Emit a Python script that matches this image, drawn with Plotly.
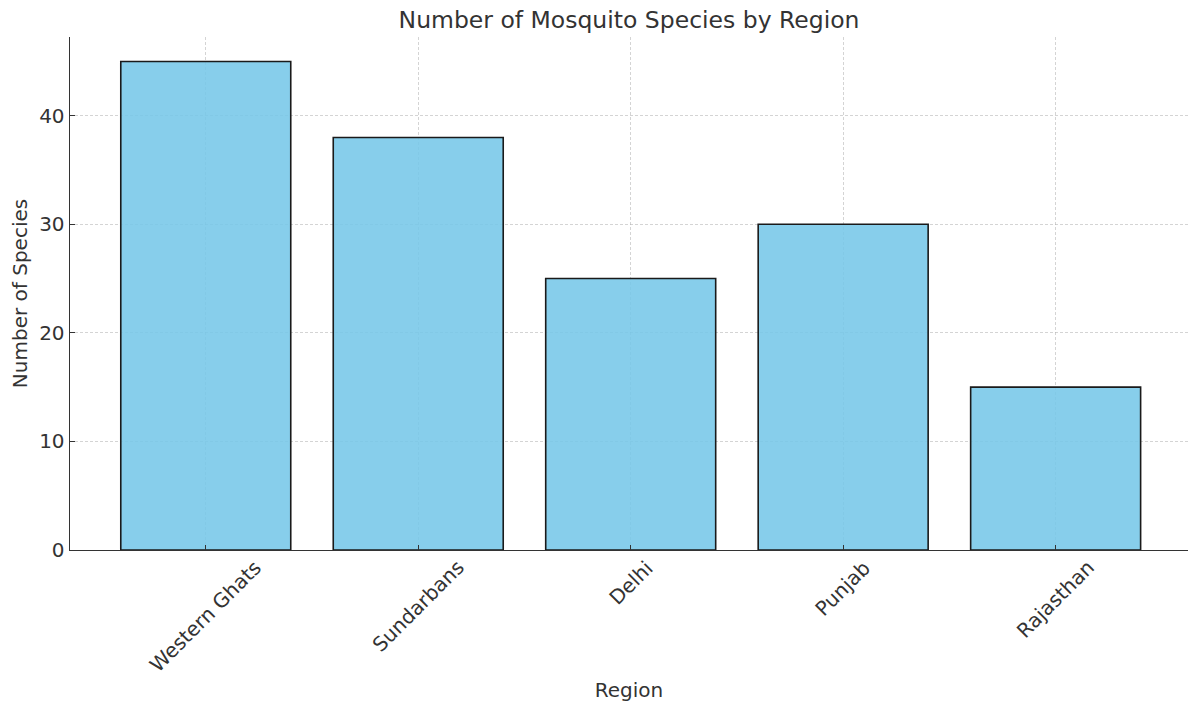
import plotly.graph_objects as go

regions = ["Western Ghats", "Sundarbans", "Delhi", "Punjab", "Rajasthan"]
species = [45, 38, 25, 30, 15]
y_ticks = [0, 10, 20, 30, 40]

TXT = "#333333"
FONT = "DejaVu Sans"

fig = go.Figure()
fig.add_trace(go.Bar(
    x=list(range(len(regions))),
    y=species,
    width=0.8,
    marker=dict(color="rgba(118,199,232,0.88)",
                line=dict(color="#1a1a1a", width=1.6)),
    hoverinfo="skip",
))

for i, r in enumerate(regions):
    fig.add_annotation(
        x=i, y=0, xref="x", yref="y",
        text=r, showarrow=False, textangle=-45,
        xanchor="center", yanchor="top", yshift=-3,
        font=dict(family=FONT, size=20, color=TXT),
    )

grid = dict(showgrid=True, gridcolor="rgba(170,170,170,0.5)", griddash="3px,2px", gridwidth=1)

fig.update_layout(
    width=1188, height=704,
    margin=dict(l=70, r=0, t=37, b=154),
    paper_bgcolor="white", plot_bgcolor="white",
    showlegend=False,
    font=dict(family=FONT, size=20, color=TXT),
    title=dict(text="Number of Mosquito Species by Region", x=0.5295, xanchor="center",
               y=0.972, yanchor="middle", font=dict(family=FONT, size=23.5, color=TXT)),
    xaxis=dict(
        range=[-0.639, 4.623], tickvals=list(range(len(regions))),
        ticktext=[""] * len(regions), showticklabels=False,
        ticks="inside", ticklen=5, tickcolor=TXT,
        showline=True, linecolor=TXT, linewidth=1.4, zeroline=False,
        automargin=False,
        title=dict(text="Region", standoff=132, font=dict(family=FONT, size=20, color=TXT)),
        **grid,
    ),
    yaxis=dict(
        range=[0, 47.25], tickvals=y_ticks,
        ticks="inside", ticklen=5, tickcolor=TXT,
        tickfont=dict(family=FONT, size=20, color=TXT),
        showline=True, linecolor=TXT, linewidth=1.4, zeroline=False,
        automargin=False,
        title=dict(text="Number of Species", standoff=6, font=dict(family=FONT, size=20, color=TXT)),
        **grid,
    ),
)

fig.write_html(
    "out.html",
    config={"displayModeBar": False, "staticPlot": True},
    post_script="document.body.style.margin='0px';document.body.style.overflow='hidden';",
)
